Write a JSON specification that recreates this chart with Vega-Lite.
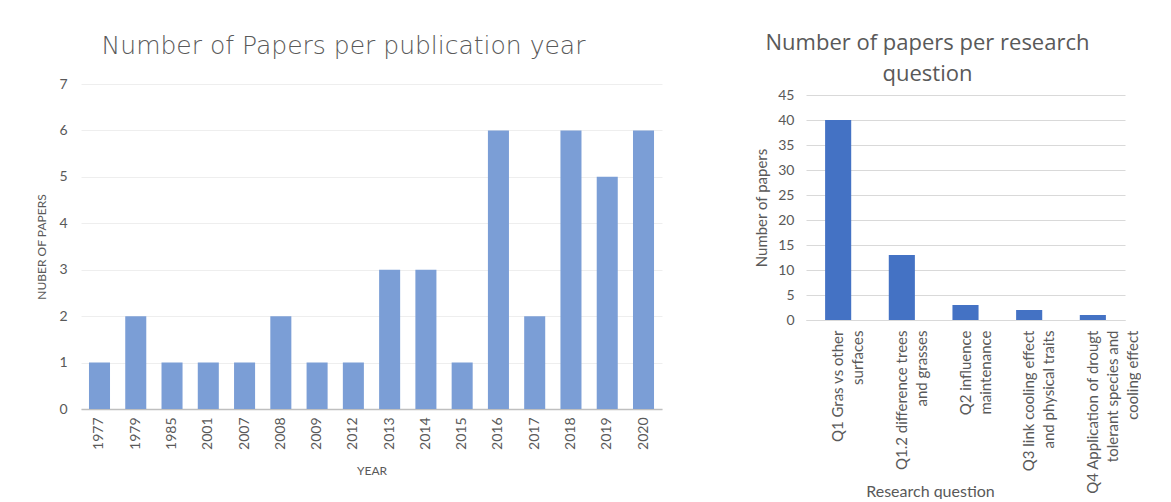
{
  "$schema": "https://vega.github.io/schema/vega-lite/v6.json",
  "background": "white",
  "padding": {"left": 35, "top": 32, "right": 0, "bottom": 0},
  "spacing": 92,
  "config": {
    "font": "Lato",
    "view": {"stroke": null},
    "axis": {
      "labelColor": "#595959",
      "titleColor": "#595959",
      "labelFont": "Lato",
      "titleFont": "Lato",
      "titleFontWeight": "normal",
      "ticks": false
    }
  },
  "hconcat": [
    {
      "width": 581,
      "height": 314,
      "title": {
        "text": "Number of Papers per publication year",
        "font": "DejaVu Sans",
        "fontSize": 25,
        "fontWeight": 200,
        "color": "#595959",
        "anchor": "middle",
        "dx": -28,
        "offset": 18
      },
      "data": {
        "values": [
          {"year": "1977", "papers": 1},
          {"year": "1979", "papers": 2},
          {"year": "1985", "papers": 1},
          {"year": "2001", "papers": 1},
          {"year": "2007", "papers": 1},
          {"year": "2008", "papers": 2},
          {"year": "2009", "papers": 1},
          {"year": "2012", "papers": 1},
          {"year": "2013", "papers": 3},
          {"year": "2014", "papers": 3},
          {"year": "2015", "papers": 1},
          {"year": "2016", "papers": 6},
          {"year": "2017", "papers": 2},
          {"year": "2018", "papers": 6},
          {"year": "2019", "papers": 5},
          {"year": "2020", "papers": 6}
        ]
      },
      "mark": {"type": "bar", "color": "#7b9ed6"},
      "encoding": {
        "x": {
          "field": "year",
          "type": "ordinal",
          "scale": {"paddingInner": 0.42, "paddingOuter": 0.22},
          "axis": {
            "title": "YEAR",
            "labelAngle": -90,
            "labelFontSize": 14,
            "labelPadding": 8,
            "domainColor": "#bfbfbf",
            "domainWidth": 1.5,
            "titleFontSize": 12,
            "titlePadding": 16
          }
        },
        "y": {
          "field": "papers",
          "type": "quantitative",
          "scale": {"domain": [0, 7], "range": [314, -11]},
          "axis": {
            "title": "NUBER OF PAPERS",
            "values": [0, 1, 2, 3, 4, 5, 6, 7],
            "gridColor": "#eeeeee",
            "domain": false,
            "labelFontSize": 14,
            "labelPadding": 14,
            "titleFontSize": 12,
            "titlePadding": 10
          }
        }
      }
    },
    {
      "width": 319,
      "height": 225,
      "title": {
        "text": ["Number of papers per research", "question"],
        "font": "Open Sans",
        "fontSize": 22,
        "fontWeight": "normal",
        "lineHeight": 31,
        "color": "#595959",
        "anchor": "middle",
        "dx": -38,
        "offset": 2
      },
      "data": {
        "values": [
          {"question": "Q1 Gras vs other surfaces", "papers": 40},
          {"question": "Q1.2 difference trees and grasses", "papers": 13},
          {"question": "Q2 influence maintenance", "papers": 3},
          {"question": "Q3 link cooling effect and physical traits", "papers": 2},
          {"question": "Q4 Application of drougt tolerant species and cooling effect", "papers": 1}
        ]
      },
      "mark": {"type": "bar", "color": "#4472c4"},
      "encoding": {
        "x": {
          "field": "question",
          "type": "nominal",
          "sort": null,
          "scale": {"paddingInner": 0.59, "paddingOuter": 0.3},
          "axis": {
            "title": "Research question",
            "labelAngle": -90,
            "labelFontSize": 15,
            "labelLineHeight": 20,
            "labelLimit": 300,
            "labelPadding": 10,
            "labelExpr": "datum.value == 'Q1 Gras vs other surfaces' ? ['Q1 Gras vs other', 'surfaces'] : datum.value == 'Q1.2 difference trees and grasses' ? ['Q1.2 difference trees', 'and grasses'] : datum.value == 'Q2 influence maintenance' ? ['Q2 influence', 'maintenance'] : datum.value == 'Q3 link cooling effect and physical traits' ? ['Q3 link cooling effect', 'and physical traits'] : ['Q4 Application of drougt', 'tolerant species and', 'cooling effect']",
            "domainColor": "#d9d9d9",
            "domainWidth": 1,
            "titleFontSize": 16,
            "titleX": 124,
            "titleY": 171,
            "titleBaseline": "middle"
          }
        },
        "y": {
          "field": "papers",
          "type": "quantitative",
          "scale": {"domain": [0, 45]},
          "axis": {
            "title": "Number of papers",
            "values": [0, 5, 10, 15, 20, 25, 30, 35, 40, 45],
            "gridColor": "#d9d9d9",
            "domain": false,
            "labelFontSize": 14,
            "labelPadding": 12,
            "titleFontSize": 15,
            "titlePadding": 8
          }
        }
      }
    }
  ]
}
